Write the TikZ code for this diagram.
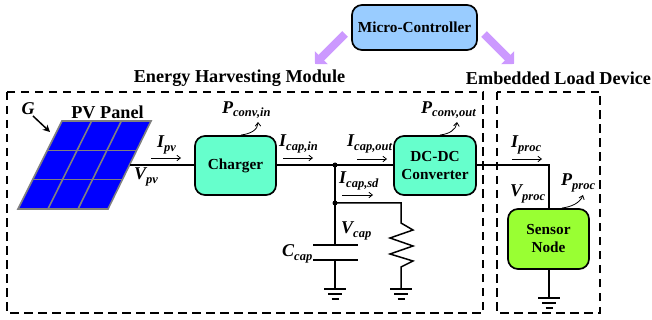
\documentclass[tikz,border=0pt]{standalone}
\usepackage{fontspec}
\setmainfont{Liberation Serif}
\usetikzlibrary{arrows.meta,calc}
\tikzset{
  box/.style={draw=black,line width=1.7pt,rounded corners=10pt,inner sep=0pt,align=center,font=\fontsize{15.3}{18}\selectfont\bfseries},
  wire/.style={line width=1.5pt},
  dashbox/.style={draw=black,line width=1.3pt,dash pattern=on 8.5pt off 5.5pt},
  cur/.style={line width=0.8pt,-{Straight Barb[length=3.5pt,width=5.5pt]}},
  pow/.style={line width=0.8pt,-{Straight Barb[length=3.5pt,width=5.5pt]}},
  ttl/.style={inner sep=0pt,font=\fontsize{18.2}{20}\selectfont\bfseries},
  lab/.style={inner sep=0pt,font=\fontsize{18}{20}\selectfont\bfseries\itshape},
  dotn/.style={circle,fill=black,inner sep=0pt,minimum size=5pt},
  cell/.style={draw=black!50,line width=1.6pt},
}
\newcommand{\gnd}[1]{%
  \draw[wire] ($(#1)+(-11,0)$) -- ($(#1)+(11,0)$);
  \draw[wire] ($(#1)+(-7,5)$) -- ($(#1)+(7,5)$);
  \draw[wire] ($(#1)+(-3.5,10)$) -- ($(#1)+(3.5,10)$);}
\newcommand{\sbs}[2]{#1\raisebox{-3.5pt}{\fontsize{12.5}{14}\selectfont #2}}
\begin{document}
\begin{tikzpicture}[x=1pt,y=-1pt]
\useasboundingbox (0,0) rectangle (652,320);
\definecolor{mint}{RGB}{102,255,204}
\definecolor{lime}{RGB}{153,255,51}
\definecolor{sky}{RGB}{153,204,255}
\definecolor{purp}{RGB}{204,153,255}
\tikzset{big/.style={line width=8pt,draw=purp,-{Triangle[length=9pt,width=18pt]}}}
% dashed module frames
\draw[dashbox] (7,92) rectangle (483,313);
\draw[dashbox] (497,92) rectangle (600,313);
% titles
\node[ttl] (t1) at (239.5,78) {Energy Harvesting Module};
\node[ttl] (t2) at (558.5,78) {Embedded Load Device};
% boxes
\node[box,fill=sky,minimum width=125pt,minimum height=45pt] (mc) at (414.5,27.5) {Micro-Controller};
\node[box,fill=mint,minimum width=81pt,minimum height=59pt] (ch) at (235.5,165.5) {Charger};
\node[box,fill=mint,minimum width=82pt,minimum height=59pt] (dc) at (435,165.5) {DC-DC\\Converter};
\node[box,fill=lime,minimum width=81pt,minimum height=60pt] (sn) at (548.5,239) {Sensor\\Node};
% big arrows
\coordinate (a1) at (345,34); \coordinate (a2) at (315,64);
\coordinate (b1) at (484,34); \coordinate (b2) at (514,64);
\draw[big] (a1) -- (a2);
\draw[big] (b1) -- (b2);
% PV panel
\coordinate (tl) at (62,121); \coordinate (tr) at (151,121);
\coordinate (br) at (108,209); \coordinate (bl) at (18,209);
\fill[blue] (tl) -- (tr) -- (br) -- (bl) -- cycle;
\draw[cell] ($(tl)!.333!(bl)$) -- ($(tr)!.333!(br)$);
\draw[cell] ($(tl)!.667!(bl)$) -- ($(tr)!.667!(br)$);
\draw[cell] ($(tl)!.333!(tr)$) -- ($(bl)!.333!(br)$);
\draw[cell] ($(tl)!.667!(tr)$) -- ($(bl)!.667!(br)$);
\draw[cell] (tl) -- (tr) -- (br) -- (bl) -- cycle;
\node[ttl] (pv) at (107.5,112) {PV Panel};
\node[lab] (g) at (28,109) {G};
\coordinate (gt) at (50,132);
\draw[line width=1.5pt,-{Stealth[length=7pt,width=7pt]}] (33,116) -- (gt);
% wires
\coordinate (pvo) at (130,165);
\coordinate (n1) at (335,165);
\coordinate (n2) at (335,203);
\coordinate (c1) at (335,245);
\coordinate (c2) at (335,260);
\coordinate (g1) at (335,289);
\coordinate (r0) at (401,203);
\coordinate (g2) at (401,289);
\coordinate (s0) at (549,165);
\coordinate (g3) at (549,298);
\draw[wire] (pvo) -- (ch.west |- pvo);
\draw[wire] (ch.east |- n1) -- (n1) -- (dc.west |- n1);
\draw[wire] (dc.east |- s0) -- (s0) -- (sn.north -| s0);
\draw[wire] (sn.south -| g3) -- (g3);
\draw[wire] (n1) -- (c1);
\draw[wire] (c2) -- (g1);
\draw[wire] (313,245) -- (358,245);
\draw[wire] (313,260) -- (358,260);
\draw[wire] (n2) -- (r0) -- (401,223) -- (413,230) -- (390,238) -- (413,246) -- (390,254) -- (413,261) -- (401,267) -- (g2);
\node[dotn] (d1) at (n1) {};
\node[dotn] (d2) at (n2) {};
\gnd{g1}
\gnd{g2}
\gnd{g3}
% current arrows
\draw[cur] (151,158) -- (181,158);
\draw[cur] (283,158) -- (313,158);
\draw[cur] (357,159) -- (387,159);
\draw[cur] (342,195) -- (373,195);
\draw[cur] (512,159) -- (542,159);
% power arrows
\draw[pow] (241,135) .. controls (250,134) and (258,130) .. (258,122);
\draw[pow] (440,135) .. controls (449,134) and (456,130) .. (457,122);
\draw[pow] (562,208) .. controls (571,207) and (580,203) .. (583,195);
% labels
\node[lab,anchor=west] at (157,145) {\sbs{I}{pv}};
\node[lab,anchor=west] at (134,177) {\sbs{V}{pv}};
\node[lab,anchor=west] at (222,110) {\sbs{P}{conv,in}};
\node[lab,anchor=west] at (279,144) {\sbs{I}{cap,in}};
\node[lab,anchor=west] at (347,144) {\sbs{I}{cap,out}};
\node[lab,anchor=west] at (421,110) {\sbs{P}{conv,out}};
\node[lab,anchor=west] at (339,181) {\sbs{I}{cap,sd}};
\node[lab,anchor=west] at (341,231) {\sbs{V}{cap}};
\node[lab,anchor=west] at (282,254) {\sbs{C}{cap}};
\node[lab,anchor=west] at (511,145) {\sbs{I}{proc}};
\node[lab,anchor=west] at (510,194) {\sbs{V}{proc}};
\node[lab,anchor=west] at (561,183) {\sbs{P}{proc}};
\end{tikzpicture}
\end{document}
